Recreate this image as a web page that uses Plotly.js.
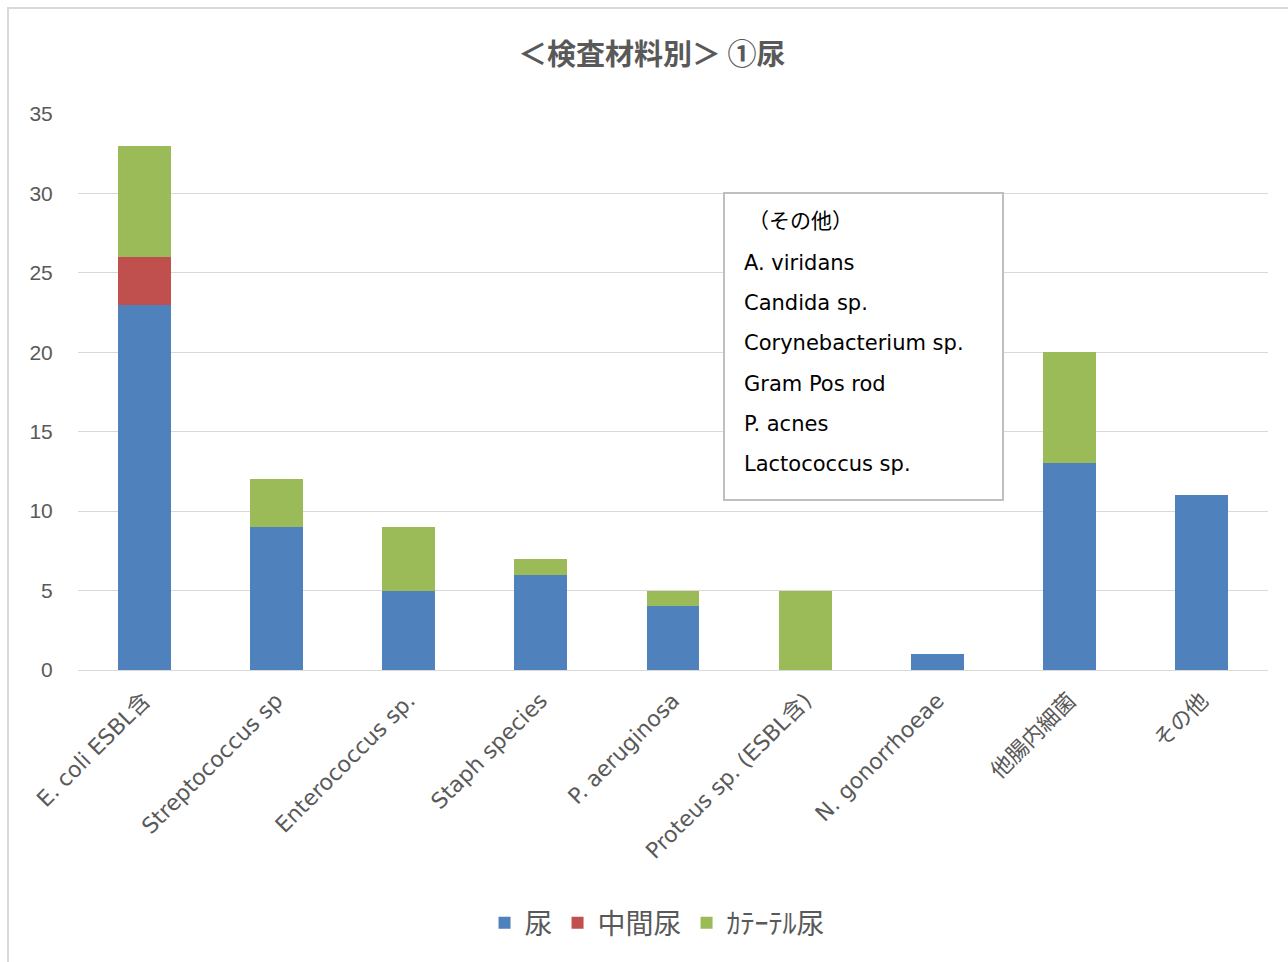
<!DOCTYPE html>
<html>
<head>
<meta charset="utf-8">
<script src="https://cdn.plot.ly/plotly-3.0.1.min.js"></script>
<style>
html,body{margin:0;padding:0;background:#fff;overflow:hidden;}
#frame{position:absolute;left:7px;top:7px;width:1300px;height:980px;border:2px solid #d9d9d9;box-sizing:border-box;pointer-events:none;z-index:5;}
#chart{position:absolute;left:0;top:0;width:1288px;height:962px;}
</style>
</head>
<body>
<div id="chart"></div>
<div id="frame"></div>
<script>
const categories = ["E. coli ESBL含","Streptococcus sp","Enterococcus sp.","Staph species","P. aeruginosa","Proteus sp. (ESBL含)","N. gonorrhoeae","他腸内細菌","その他"];
const seriesNames = ["尿","中間尿","ｶﾃｰﾃﾙ尿"];
const urine = [23,9,5,6,4,0,1,13,11];
const midstream = [3,0,0,0,0,0,0,0,0];
const catheter = [7,3,4,1,1,5,0,7,0];
const noteLines = ["（その他）","A. viridans","Candida sp.","Corynebacterium sp.","Gram Pos rod","P. acnes","Lactococcus sp."];
const yTicks = [0,5,10,15,20,25,30,35];

const colors = ["#4F81BD","#C0504D","#9BBB59"];
const font = "'Noto Sans CJK JP','Noto Sans',sans-serif";
const latin = "'DejaVu Sans','Noto Sans CJK JP',sans-serif";
const vals = [urine, midstream, catheter];
const data = vals.map((v,i)=>({
  type:"bar", x:categories, y:v, name:seriesNames[i],
  marker:{color:colors[i]}, hoverinfo:"skip"
}));

// plot-area pixel helpers (layout only)
const L=78, R=1268, T=114, B=670;
const px = x => (x-L)/(R-L);
const py = y => (B-y)/(B-T);

const lineYs = [221,263,303,343,384,424,464];
const annotations = noteLines.map((t,i)=>({
  text:t, xref:"paper", yref:"paper", x:px(i===0?746:742), y:py(lineYs[i]),
  xanchor:"left", yanchor:"middle", showarrow:false,
  font:{family:latin, size:21, color:"#000"}
}));

const layout = {
  width:1288, height:962,
  margin:{l:L, r:1288-R, t:T, b:962-B},
  paper_bgcolor:"#fff", plot_bgcolor:"#fff",
  barmode:"stack", bargap:0.6,
  title:{text:"<b>＜検査材料別＞ ①尿</b>", x:0.506, xref:"container", xanchor:"center", y:1-55/962, yanchor:"middle", yref:"container",
    font:{family:font, size:29, color:"#595959"}},
  xaxis:{tickangle:-45, tickfont:{family:latin, size:22, color:"#595959"}, showgrid:false, showline:true, linecolor:"#d9d9d9", linewidth:1,
    ticks:"outside", ticklen:8, tickcolor:"rgba(0,0,0,0)", fixedrange:true},
  yaxis:{range:[0,35], tickvals:yTicks, ticktext:yTicks.map(String), tickfont:{family:"'Liberation Sans',Arial,sans-serif", size:21, color:"#595959"},
    gridcolor:"#d9d9d9", gridwidth:1, zeroline:true, zerolinecolor:"#d9d9d9", showline:false, ticks:"outside", ticklen:20, tickcolor:"rgba(0,0,0,0)", fixedrange:true},
  legend:{orientation:"h", x:0.487, xanchor:"center", y:py(923), yanchor:"middle", yref:"paper",
    font:{family:font, size:28, color:"#595959"}, itemwidth:30, traceorder:"normal"},
  shapes:[{type:"rect", xref:"paper", yref:"paper", x0:px(724), x1:px(1003), y0:py(500), y1:py(193),
    line:{color:"#bfbfbf", width:2}, fillcolor:"#fff", layer:"above"}],
  annotations:annotations,
  showlegend:true
};
Plotly.newPlot("chart", data, layout, {displayModeBar:false, staticPlot:true});
</script>
</body>
</html>
